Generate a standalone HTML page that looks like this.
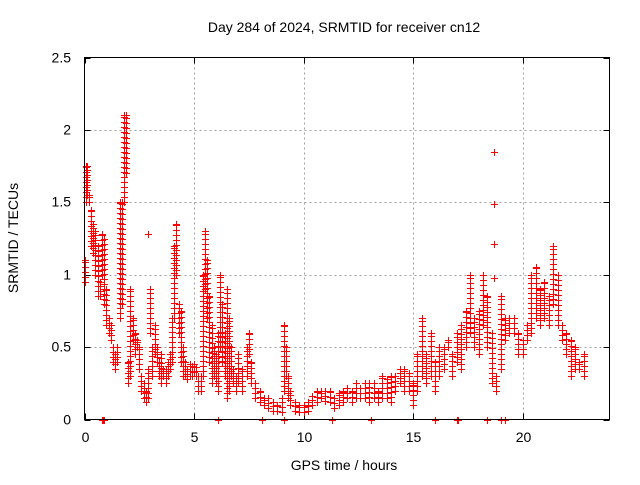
<!DOCTYPE html>
<html><head><meta charset="utf-8"><style>
body{margin:0;background:#fff}
svg text{font-family:"Liberation Sans",sans-serif;font-size:14px;fill:#000}
</style></head><body>
<svg id="chart" width="640" height="480" viewBox="0 0 640 480" xmlns="http://www.w3.org/2000/svg">
<rect width="640" height="480" fill="#fff"/>
<text x="344" y="32" text-anchor="middle">Day 284 of 2024, SRMTID for receiver cn12</text>
<text x="344" y="470" text-anchor="middle">GPS time / hours</text>
<text transform="translate(18,238) rotate(-90)" text-anchor="middle">SRMTID / TECUs</text>
<g id="grid" shape-rendering="crispEdges"></g>
<g id="ticks"></g>
<path id="marks" fill="none" stroke="#ff0000" stroke-width="1" shape-rendering="crispEdges"/>
<rect x="84.5" y="57.5" width="525" height="362" fill="none" stroke="#000" stroke-width="1" shape-rendering="crispEdges"/>
</svg>
<script>
const xTicks=[0,5,10,15,20];
const yTicks=[0,0.5,1,1.5,2,2.5];
const yTickLabels=["0","0.5","1","1.5","2","2.5"];
const times=[0,0.05,0.1,0.2,0.3,0.4,0.5,0.6,0.7,0.8,0.9,1.0,1.1,1.2,1.3,1.4,1.5,1.6,1.7,1.8,1.9,2.0,2.1,2.2,2.3,2.4,2.5,2.6,2.7,2.8,2.9,3.0,3.1,3.2,3.3,3.4,3.5,3.6,3.7,3.8,3.9,4.0,4.1,4.2,4.3,4.4,4.5,4.6,4.7,4.8,4.9,5.0,5.1,5.2,5.3,5.4,5.5,5.6,5.7,5.8,5.9,6.0,6.1,6.2,6.3,6.4,6.5,6.6,6.7,6.8,6.9,7.0,7.2,7.4,7.5,7.6,7.8,8.0,8.2,8.4,8.6,8.8,9.0,9.1,9.2,9.3,9.4,9.6,9.8,10.0,10.2,10.4,10.6,10.8,11.0,11.2,11.4,11.6,11.8,12.0,12.2,12.4,12.6,12.8,13.0,13.2,13.4,13.6,13.8,14.0,14.2,14.4,14.6,14.8,15.0,15.2,15.4,15.6,15.8,16.0,16.2,16.4,16.6,16.8,17.0,17.2,17.4,17.6,17.8,18.0,18.2,18.4,18.6,18.8,19.0,19.2,19.4,19.6,19.8,20.0,20.2,20.4,20.6,20.8,21.0,21.2,21.4,21.6,21.8,22.0,22.2,22.4,22.6,22.8];
const lows=[0.95,1.5,1.55,1.5,1.2,1.15,1.0,0.85,0.85,1.0,0.8,0.65,0.6,0.55,0.4,0.35,0.4,0.7,0.8,1.5,1.7,0.25,0.3,0.55,0.45,0.5,0.35,0.2,0.15,0.12,0.15,0.6,0.3,0.45,0.4,0.3,0.25,0.3,0.25,0.3,0.35,0.4,0.7,1.0,0.6,0.4,0.3,0.3,0.28,0.3,0.3,0.33,0.3,0.2,0.2,0.3,0.9,0.7,0.4,0.25,0.3,0.25,0.2,0.5,0.4,0.3,0.15,0.2,0.3,0.25,0.2,0.25,0.2,0.3,0.45,0.25,0.15,0.12,0.1,0.08,0.06,0.06,0.05,0.2,0.3,0.15,0.1,0.06,0.05,0.05,0.06,0.1,0.12,0.15,0.13,0.12,0.08,0.1,0.12,0.15,0.12,0.15,0.15,0.15,0.12,0.15,0.12,0.15,0.15,0.12,0.2,0.25,0.2,0.2,0.1,0.2,0.3,0.25,0.3,0.2,0.3,0.35,0.5,0.3,0.4,0.35,0.5,0.6,0.5,0.45,0.65,0.5,0.25,0.2,0.35,0.55,0.6,0.6,0.45,0.45,0.55,0.6,0.7,0.65,0.7,0.65,0.8,0.65,0.55,0.45,0.3,0.35,0.35,0.3];
const highs=[1.1,1.75,1.75,1.55,1.45,1.35,1.3,1.2,0.95,1.28,1.25,0.9,0.7,0.65,0.5,0.45,0.5,1.5,1.5,2.1,2.1,0.4,0.9,0.7,0.6,0.55,0.5,0.3,0.25,0.2,0.35,0.9,0.5,0.65,0.5,0.4,0.45,0.35,0.35,0.4,0.45,0.7,1.2,1.35,0.8,0.75,0.5,0.4,0.35,0.38,0.37,0.38,0.36,0.3,0.3,1.0,1.3,1.1,0.85,0.65,0.5,0.45,0.6,1.0,0.8,0.6,0.9,0.7,0.5,0.35,0.3,0.45,0.35,0.5,0.6,0.4,0.25,0.2,0.15,0.15,0.12,0.1,0.15,0.65,0.5,0.3,0.2,0.12,0.1,0.1,0.12,0.16,0.2,0.2,0.2,0.2,0.15,0.18,0.2,0.22,0.2,0.25,0.22,0.25,0.25,0.25,0.2,0.3,0.28,0.3,0.3,0.35,0.35,0.32,0.25,0.45,0.7,0.45,0.6,0.4,0.5,0.5,0.55,0.45,0.6,0.65,0.75,1.0,0.7,0.75,1.0,0.85,0.6,0.3,0.85,0.7,0.7,0.7,0.6,0.55,0.65,1.0,1.05,0.9,0.95,0.85,1.2,1.0,0.65,0.6,0.55,0.5,0.4,0.45];
const outlierTimes=[18.7,18.7,18.7,18.7,2.9];
const outlierValues=[1.85,1.49,1.21,0.98,1.28];
const zeroTimes=[0.8,0.85,0.9,6.1,8.1,9.1,11.3,13.1,16.0,17.0,17.05,18.4,19.0,19.2];

const X0=84.5,XS=21.9,Y0=419.5,YS=144.8;
const xs=t=>X0+t*XS, ys=v=>Y0-v*YS;
const NS="http://www.w3.org/2000/svg";
const grid=document.getElementById('grid'), ticks=document.getElementById('ticks');
function line(parent,x1,y1,x2,y2,attrs){const l=document.createElementNS(NS,'line');l.setAttribute('x1',x1);l.setAttribute('y1',y1);l.setAttribute('x2',x2);l.setAttribute('y2',y2);for(const k in attrs)l.setAttribute(k,attrs[k]);parent.appendChild(l);return l;}
xTicks.forEach(t=>{const x=Math.round(xs(t))+0.5;
 if(t>0){const g=line(grid,x,57.5,x,419.5,{stroke:'#a0a0a0','stroke-dasharray':'2,3'});
 
 }
 line(ticks,x,419.5,x,413.5,{stroke:'#000'});line(ticks,x,57.5,x,63.5,{stroke:'#000'});
 const tx=document.createElementNS(NS,'text');tx.setAttribute('x',x);tx.setAttribute('y',442);tx.setAttribute('text-anchor','middle');tx.textContent=t;
 
 
 ticks.appendChild(tx);});
yTicks.forEach((v,i)=>{const y=Math.round(ys(v))+0.5;
 if(v>0&&v<2.5){const g=line(grid,84.5,y,609.5,y,{stroke:'#a0a0a0','stroke-dasharray':'2,3'});
 
 }
 line(ticks,84.5,y,90.5,y,{stroke:'#000'});line(ticks,609.5,y,603.5,y,{stroke:'#000'});
 const tx=document.createElementNS(NS,'text');tx.setAttribute('x',71);tx.setAttribute('y',y+4);tx.setAttribute('text-anchor','end');tx.textContent=yTickLabels[i];
 
 
 ticks.appendChild(tx);});
let d='';
function cross(x,y){x=Math.round(x)+0.5;y=Math.round(y)+0.5;d+=`M${x-3.5} ${y}h7M${x} ${y-3.5}v7`;}
times.forEach((t,i)=>{
  const yl=ys(lows[i]),yh=ys(highs[i]);
  for(let y=yl;y>=yh-0.1;y-=5)cross(xs(t),y);
  cross(xs(t),yh);
});
outlierTimes.forEach((t,i)=>cross(xs(t),ys(outlierValues[i])));
zeroTimes.forEach(t=>cross(xs(t),ys(0)));
document.getElementById('marks').setAttribute('d',d);
</script>
</body></html>
